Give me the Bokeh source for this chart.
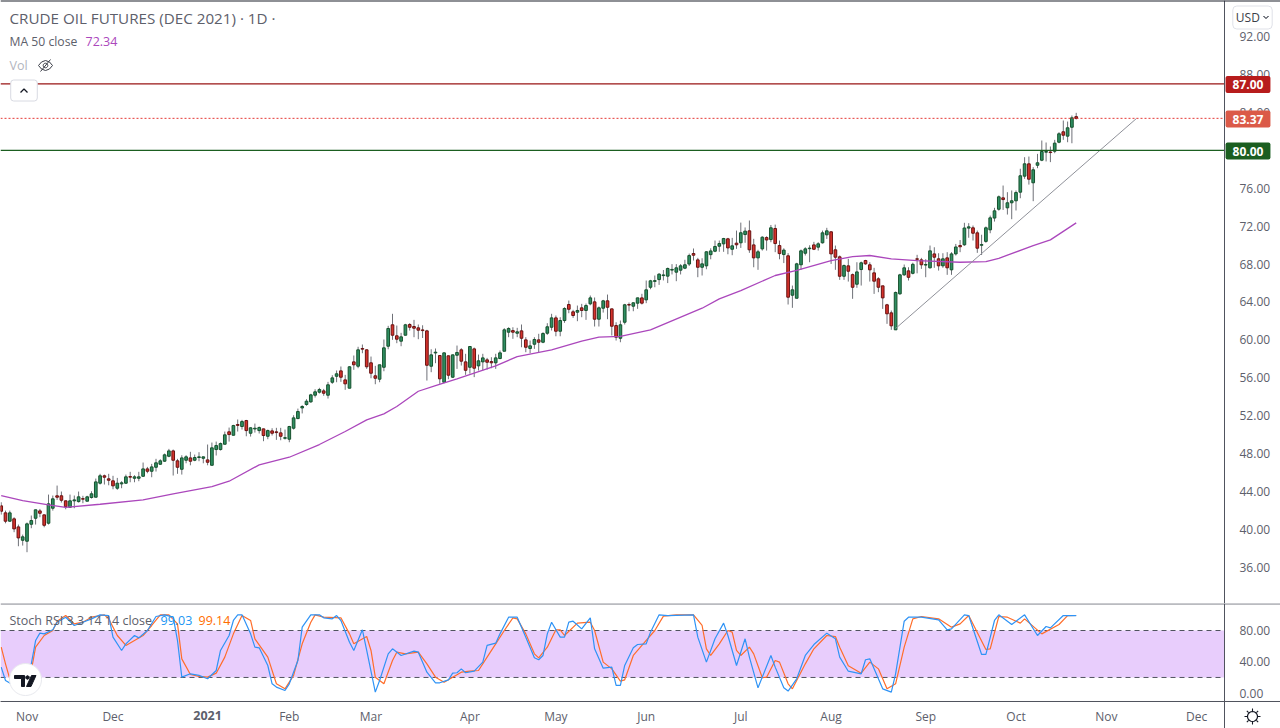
import math

from bokeh.embed import file_html
from bokeh.layouts import column
from bokeh.models import (BoxAnnotation, ColumnDataSource, FixedTicker, Label, LinearAxis,
                          NumeralTickFormatter, PolyAnnotation, Range1d, Span)
from bokeh.plotting import figure
from bokeh.resources import INLINE

# daily candles, bar 0 is the first one on the left
opens = [
    42.49, 41.75, 40.87, 41.12, 40.27, 38.86, 38.76, 40.55, 41.18, 41.96,
    41.54, 40.66, 42.24, 43.55, 43.55, 43.02, 42.34, 43.02, 42.94, 43.25,
    42.98, 43.37, 43.40, 44.88, 45.66, 45.34, 45.13, 44.35, 44.81, 44.88,
    45.58, 45.40, 45.40, 45.61, 46.39, 46.14, 46.56, 46.88, 47.20, 47.72,
    48.29, 47.24, 46.35, 47.30, 47.55, 47.30, 47.59, 47.51, 47.34, 46.77,
    48.43, 48.43, 48.99, 50.30, 49.94, 51.07, 50.86, 51.49, 50.15, 50.60,
    50.43, 50.61, 49.83, 50.40, 50.30, 50.19, 49.62, 49.52, 50.68, 51.70,
    52.82, 53.18, 53.46, 54.16, 54.48, 54.62, 54.16, 55.53, 56.16, 56.73,
    55.78, 54.90, 57.68, 57.22, 59.09, 58.95, 57.58, 56.21, 55.85, 57.11,
    59.33, 61.59, 60.43, 59.86, 60.49, 61.62, 61.41, 61.27, 61.05, 60.95,
    57.22, 58.62, 58.35, 55.53, 58.32, 56.06, 58.38, 58.95, 57.68, 57.11,
    59.05, 57.26, 57.68, 57.89, 57.71, 57.58, 58.03, 58.80, 60.81, 60.98,
    60.70, 60.95, 60.00, 59.09, 59.54, 60.00, 59.75, 60.70, 61.33, 62.32,
    60.91, 62.04, 63.73, 62.96, 62.92, 63.38, 63.10, 63.80, 64.01, 62.18,
    63.34, 64.12, 63.27, 61.51, 60.17, 61.86, 63.73, 63.55, 63.87, 64.43,
    64.22, 65.55, 66.17, 66.36, 66.78, 66.72, 67.36, 67.14, 67.35, 67.56,
    68.00, 69.11, 68.44, 67.66, 67.81, 68.99, 69.35, 69.88, 70.13, 70.66,
    69.56, 70.20, 70.24, 71.11, 71.50, 70.02, 68.65, 69.60, 70.79, 70.58,
    71.75, 69.95, 69.00, 68.87, 64.71, 64.39, 67.92, 69.14, 69.62, 70.02,
    69.78, 70.24, 71.08, 71.40, 69.50, 68.76, 66.71, 67.81, 66.88, 65.87,
    67.42, 68.37, 67.92, 67.07, 66.44, 65.70, 63.70, 62.85, 61.06, 64.86,
    66.86, 67.28, 67.02, 68.55, 68.44, 67.89, 67.60, 69.07, 68.55, 67.81,
    68.65, 67.39, 69.07, 69.95, 70.03, 71.79, 71.82, 71.29, 69.98, 70.39,
    71.61, 72.85, 73.78, 74.98, 73.93, 74.46, 74.67, 75.58, 77.27, 78.57,
    76.57, 78.42, 78.95, 79.80, 79.82, 79.90, 80.85, 81.95, 81.49, 82.43,
    83.55,
]
highs = [
    42.87, 41.99, 41.99, 41.29, 40.52, 39.46, 40.73, 41.47, 42.10, 42.17,
    41.57, 43.68, 43.58, 44.63, 44.00, 43.05, 43.68, 43.58, 44.00, 43.55,
    43.55, 44.03, 45.37, 45.87, 45.79, 45.87, 45.66, 45.44, 45.09, 45.79,
    46.08, 45.72, 46.08, 47.06, 46.60, 46.92, 47.45, 47.41, 48.01, 48.50,
    48.43, 47.45, 47.83, 47.83, 48.19, 47.90, 48.15, 47.69, 48.96, 49.17,
    49.27, 49.17, 50.33, 50.75, 51.04, 51.60, 51.56, 51.56, 50.78, 51.17,
    50.86, 50.64, 50.54, 50.68, 50.72, 50.72, 50.54, 50.93, 52.05, 52.75,
    53.11, 53.74, 54.31, 54.79, 54.94, 54.83, 55.57, 56.27, 56.77, 57.19,
    56.31, 57.22, 58.35, 59.27, 59.51, 59.00, 58.24, 57.26, 57.37, 60.04,
    61.48, 62.75, 61.51, 60.74, 61.69, 61.76, 62.11, 61.62, 61.54, 61.06,
    59.01, 59.09, 58.40, 58.68, 58.35, 58.45, 59.40, 59.12, 58.53, 59.33,
    59.19, 58.45, 58.53, 58.10, 58.17, 58.53, 58.88, 61.23, 61.33, 61.33,
    61.27, 61.62, 60.28, 59.93, 60.28, 60.64, 60.81, 61.76, 62.75, 62.57,
    62.39, 63.44, 64.15, 63.17, 63.62, 63.80, 63.83, 64.68, 64.47, 63.52,
    64.22, 64.78, 63.30, 61.86, 62.04, 63.80, 63.94, 63.97, 64.46, 64.86,
    66.26, 66.33, 66.79, 67.04, 67.37, 67.63, 67.99, 67.99, 67.99, 68.45,
    69.10, 69.64, 68.65, 68.61, 69.35, 69.66, 70.48, 70.48, 70.76, 70.76,
    70.76, 71.53, 72.37, 71.86, 72.59, 70.66, 69.50, 70.93, 70.93, 72.12,
    72.16, 70.48, 69.66, 69.15, 65.73, 68.13, 69.53, 69.77, 69.98, 70.34,
    70.30, 71.53, 71.82, 71.46, 69.95, 68.90, 67.95, 68.55, 67.00, 68.19,
    68.26, 68.44, 68.19, 67.60, 66.61, 65.70, 63.80, 63.10, 65.10, 66.97,
    67.95, 67.66, 68.14, 68.97, 68.65, 68.51, 69.95, 69.77, 69.14, 69.14,
    69.25, 69.25, 70.12, 70.53, 72.35, 72.31, 72.06, 71.53, 71.09, 71.96,
    73.11, 73.93, 75.23, 76.28, 75.58, 75.76, 75.76, 78.05, 79.27, 79.34,
    78.22, 79.62, 81.03, 80.82, 80.40, 81.10, 81.91, 83.14, 83.03, 83.67,
    83.95,
]
lows = [
    41.57, 40.65, 40.80, 39.71, 38.23, 38.30, 37.60, 40.13, 40.52, 41.29,
    40.23, 40.52, 41.99, 43.12, 42.84, 42.13, 42.31, 42.24, 42.84, 42.77,
    42.98, 43.26, 43.40, 44.74, 44.74, 44.66, 44.24, 44.18, 44.35, 44.81,
    44.98, 44.98, 45.09, 45.55, 45.93, 45.51, 46.11, 46.81, 47.13, 47.62,
    45.69, 45.87, 45.79, 46.98, 46.77, 47.20, 47.20, 46.98, 46.77, 46.77,
    47.80, 48.33, 48.96, 49.27, 49.91, 50.33, 50.54, 49.83, 49.80, 50.22,
    50.12, 49.31, 49.52, 49.91, 49.45, 49.41, 49.48, 49.20, 50.54, 51.63,
    52.24, 53.05, 53.36, 53.92, 54.34, 54.10, 53.81, 55.36, 55.53, 55.57,
    54.73, 54.90, 56.84, 57.01, 58.59, 56.94, 55.95, 55.32, 55.53, 56.69,
    59.01, 60.00, 59.65, 59.33, 60.46, 60.98, 60.28, 60.07, 60.20, 55.71,
    56.59, 57.54, 55.36, 55.43, 55.85, 55.99, 56.94, 57.29, 56.31, 56.44,
    56.07, 56.77, 56.76, 56.87, 57.01, 56.94, 57.96, 58.80, 60.28, 60.11,
    60.28, 59.22, 58.70, 58.59, 59.05, 58.70, 59.65, 60.53, 60.99, 60.38,
    60.38, 61.80, 62.81, 62.32, 61.97, 62.39, 62.11, 63.65, 61.41, 61.41,
    62.88, 62.18, 60.46, 59.93, 59.75, 61.62, 63.02, 63.02, 63.27, 63.73,
    63.87, 65.34, 65.55, 65.80, 66.27, 65.99, 66.90, 66.19, 66.90, 67.46,
    67.79, 68.37, 66.61, 66.79, 67.45, 68.50, 69.25, 69.29, 69.29, 69.03,
    68.93, 69.60, 69.70, 70.24, 69.18, 67.66, 67.39, 69.42, 69.42, 70.30,
    69.25, 68.50, 68.10, 63.73, 63.38, 64.39, 67.39, 68.90, 68.19, 69.47,
    69.42, 70.16, 70.65, 68.01, 67.39, 66.33, 66.33, 66.15, 64.33, 65.49,
    65.73, 67.92, 66.15, 64.85, 65.03, 63.27, 61.69, 61.06, 61.06, 64.75,
    66.75, 66.26, 66.91, 67.02, 67.49, 66.61, 67.53, 67.60, 67.31, 67.60,
    66.86, 66.86, 68.90, 69.25, 69.92, 70.77, 70.48, 69.18, 68.95, 70.24,
    71.25, 72.48, 73.63, 73.71, 73.22, 72.73, 73.65, 74.94, 76.99, 76.38,
    74.63, 78.11, 78.85, 78.82, 78.75, 79.69, 80.74, 81.10, 80.85, 80.74,
    83.25,
]
closes = [
    41.92, 40.87, 41.75, 40.06, 39.11, 39.22, 40.59, 40.94, 42.07, 41.71,
    40.44, 42.70, 43.23, 43.40, 43.08, 42.39, 43.02, 43.12, 43.44, 43.20,
    43.44, 43.76, 45.02, 45.66, 45.51, 45.19, 44.60, 44.88, 44.92, 45.55,
    45.52, 45.55, 45.55, 46.39, 46.14, 46.60, 47.03, 47.24, 47.87, 48.29,
    47.30, 46.56, 47.55, 47.66, 47.20, 47.59, 47.66, 47.66, 47.09, 48.61,
    48.85, 49.06, 49.98, 50.01, 50.96, 50.98, 51.38, 50.43, 50.72, 50.68,
    50.75, 49.91, 50.43, 50.15, 50.22, 49.83, 49.68, 50.86, 51.77, 52.44,
    52.97, 53.53, 54.20, 54.52, 54.76, 54.37, 55.26, 55.99, 56.42, 56.06,
    55.36, 57.16, 57.37, 58.95, 59.02, 57.16, 56.48, 55.95, 57.37, 59.16,
    61.20, 60.49, 60.07, 60.32, 61.59, 61.33, 61.23, 61.02, 60.98, 57.32,
    58.42, 58.70, 55.89, 58.63, 56.27, 58.42, 58.67, 57.75, 56.79, 59.30,
    57.01, 57.79, 58.10, 57.64, 57.58, 58.10, 58.63, 61.06, 61.20, 60.81,
    60.85, 60.17, 59.22, 59.37, 60.04, 59.75, 60.67, 61.38, 62.32, 60.91,
    62.04, 63.31, 63.23, 62.57, 63.10, 63.10, 63.62, 64.43, 62.18, 63.38,
    64.12, 63.44, 61.44, 60.28, 61.59, 63.70, 63.67, 63.91, 64.43, 63.87,
    65.28, 66.23, 66.25, 66.93, 66.85, 67.53, 67.43, 67.60, 67.81, 67.92,
    68.89, 68.93, 67.66, 68.02, 69.29, 69.38, 69.85, 70.16, 70.69, 69.70,
    69.92, 70.03, 71.30, 71.47, 69.50, 68.65, 69.29, 70.83, 70.54, 71.82,
    70.16, 69.10, 69.47, 64.50, 65.28, 68.02, 69.39, 69.60, 69.68, 69.56,
    70.13, 71.29, 71.50, 69.07, 68.72, 66.71, 67.84, 67.24, 65.55, 67.17,
    68.13, 68.02, 67.39, 66.19, 65.55, 64.43, 62.75, 61.48, 65.00, 66.86,
    67.60, 66.60, 67.97, 68.50, 67.92, 67.95, 69.39, 68.72, 67.81, 68.55,
    67.60, 69.07, 69.80, 69.82, 71.80, 71.92, 71.25, 69.67, 70.05, 71.82,
    72.87, 73.61, 75.09, 74.80, 74.46, 74.67, 75.54, 77.31, 78.57, 76.95,
    77.94, 78.68, 79.87, 79.87, 79.76, 80.75, 81.74, 81.59, 82.37, 83.42,
    83.37,
]

# MA 50 close
ma_bars = [0, 5, 11, 15, 23, 33, 40, 49, 53, 60, 67, 74, 80, 85, 89, 92, 97, 101, 106, 115,
           120, 128, 135, 139, 144, 151, 163, 167, 172, 180, 185, 193, 198, 202, 207, 213,
           223, 229, 232, 240, 244, 250]
ma_values = [43.58, 43.05, 42.60, 42.34, 42.66, 43.12, 43.76, 44.53, 45.09, 46.82, 47.62, 48.96,
             50.33, 51.56, 52.20, 52.97, 54.58, 55.18, 55.89, 57.26, 58.24, 58.95, 59.86, 60.28,
             60.37, 61.06, 63.34, 64.33, 65.20, 66.79, 67.32, 68.37, 68.79, 68.90, 68.55, 68.37,
             68.19, 68.26, 68.60, 69.95, 70.55, 72.34]

# Stoch RSI
k_bars = [0, 1, 2, 5, 7, 8, 9, 10, 12, 13, 15, 17, 19, 21, 23, 25, 26, 28, 29, 31, 32, 34, 36, 38,
          40, 41, 42, 44, 46, 48, 50, 51, 53, 54, 55, 56, 58, 59, 60, 62, 63, 64, 66, 67, 69, 70,
          72, 74, 75, 77, 78, 79, 81, 82, 84, 85, 87, 88, 90, 91, 93, 96, 97, 99, 101, 102, 104,
          105, 106, 107, 108, 110, 112, 113, 115, 116, 118, 120, 122, 124, 125, 126, 127, 128,
          130, 131, 132, 133, 135, 137, 138, 140, 142, 143, 144, 145, 147, 148, 150, 151, 153,
          155, 161, 162, 164, 166, 168, 169, 171, 173, 174, 176, 179, 180, 182, 183, 185, 187,
          189, 192, 194, 195, 197, 200, 201, 202, 205, 207, 208, 210, 211, 214, 218, 220, 221,
          224, 225, 228, 229, 231, 232, 235, 238, 241, 243, 244, 247, 250]
k_values = [33.2, 16.2, 12.8, 14.0, 37.4, 67.2, 76.6, 75.7, 80.9, 90.6, 97.0, 86.4, 90.6, 94.9,
            100.0, 99.1, 71.5, 54.5, 63.0, 73.6, 70.6, 80.0, 97.9, 100.0, 97.0, 67.2, 20.4, 24.7,
            22.6, 18.3, 28.9, 54.5, 73.6, 92.8, 99.9, 100.0, 75.7, 58.7, 57.9, 35.3, 11.9, 7.7, 3.4,
            11.9, 41.7, 84.3, 100.0, 100.0, 96.2, 94.9, 99.1, 92.8, 65.1, 54.5, 80.9, 54.5, 1.3,
            16.2, 50.2, 56.6, 48.1, 53.6, 52.3, 26.8, 13.2, 13.2, 17.0, 25.5, 26.0, 31.0, 26.0,
            28.1, 39.6, 60.9, 63.8, 75.7, 97.0, 97.0, 71.5, 45.1, 42.6, 48.1, 75.7, 90.6, 71.5,
            71.5, 90.6, 91.9, 82.1, 96.2, 56.6, 31.9, 33.2, 9.8, 9.8, 35.3, 57.9, 62.1, 63.0, 77.9,
            100.0, 99.1, 100.0, 71.5, 39.6, 69.4, 89.4, 73.6, 35.3, 69.4, 46.0, 6.8, 48.1, 33.2,
            6.8, 2.6, 18.3, 48.1, 62.1, 76.6, 69.4, 46.0, 28.0, 24.7, 42.6, 43.8, 5.5, 1.3, 24.7,
            91.9, 97.0, 97.0, 93.6, 80.9, 82.1, 100.0, 99.1, 49.4, 49.4, 92.8, 100.0, 87.7, 100.0,
            73.6, 85.1, 83.4, 99.1, 99.03]
d_bars = [0, 1, 2, 5, 7, 8, 10, 12, 13, 15, 17, 19, 21, 24, 25, 27, 29, 31, 33, 35, 37, 39, 41, 42,
          44, 46, 48, 50, 52, 54, 56, 58, 59, 62, 64, 66, 68, 70, 72, 73, 75, 79, 81, 82, 85, 86,
          87, 89, 91, 92, 94, 97, 99, 101, 103, 105, 107, 109, 111, 113, 115, 117, 119, 120, 122,
          124, 125, 127, 129, 130, 131, 134, 137, 138, 140, 142, 144, 145, 147, 149, 152, 154,
          157, 161, 163, 164, 165, 167, 169, 170, 171, 172, 174, 175, 177, 178, 180, 181, 183,
          184, 187, 189, 192, 194, 195, 197, 200, 202, 204, 206, 208, 210, 212, 214, 218, 221,
          223, 225, 229, 230, 232, 234, 237, 238, 242, 246, 248, 250]
d_values = [58.7, 37.4, 18.3, 14.0, 28.9, 58.7, 73.6, 80.0, 91.9, 99.1, 88.5, 90.6, 97.0, 100.0,
            94.9, 73.6, 60.9, 67.2, 73.6, 86.4, 100.0, 100.0, 88.5, 43.8, 23.8, 21.3, 20.4, 25.5,
            46.0, 75.7, 99.1, 92.8, 69.4, 46.0, 11.9, 5.5, 22.6, 63.0, 90.6, 100.0, 97.0, 96.2,
            75.7, 63.0, 72.3, 54.5, 20.4, 11.9, 41.7, 52.3, 50.2, 52.3, 37.4, 20.4, 14.0, 20.4,
            26.8, 28.1, 28.9, 46.0, 63.0, 80.0, 96.2, 94.9, 75.7, 50.2, 45.1, 58.7, 80.9, 80.9,
            73.6, 89.4, 90.6, 80.0, 39.6, 31.0, 15.3, 17.0, 48.1, 60.9, 80.0, 98.3, 100.0, 100.0,
            86.4, 56.6, 48.1, 63.0, 80.0, 77.9, 54.5, 48.1, 58.7, 50.2, 19.6, 20.4, 41.7, 39.6,
            11.9, 5.5, 37.4, 56.6, 73.6, 72.3, 58.7, 35.0, 25.5, 39.6, 31.0, 5.5, 11.9, 58.7, 94.9,
            97.9, 94.9, 84.3, 88.5, 99.1, 55.7, 56.6, 97.9, 97.0, 89.4, 94.9, 75.7, 87.7, 99.1,
            99.14]

# trend line drawn on the chart
trend_bars = [208, 264]
trend_values = [61.2, 83.35]

price_ticks = [36, 40, 44, 48, 52, 56, 60, 64, 68, 72, 76, 80, 84, 88, 92]
stoch_ticks = [0, 40, 80]
month_ticks = [6, 26, 67, 86, 109, 129, 150, 172, 193, 215, 236, 257, 278]
month_labels = ["Nov", "Dec", "Feb", "Mar", "Apr", "May", "Jun", "Jul", "Aug", "Sep", "Oct", "Nov", "Dec"]
year_tick = 48
year_label = "2021"

MAIN_H = 603
STOCH_H = 125
X_START, X_END = -0.163, 297.51   # whole canvas is the frame
AXIS_BAR = 284.49                 # price scale sits here
TIME_LINE = -10.7                 # time scale sits here on the stoch range
FONT = "Open Sans"
TEXT = "#5d606b"
AXIS = "#50535e"
GREEN_BODY, GREEN_EDGE = "#2f8f63", "#16502c"
RED_BODY, RED_EDGE = "#d5322b", "#681212"


def style(p):
    p.grid.visible = False
    p.outline_line_color = None
    p.background_fill_color = "white"
    p.border_fill_color = "white"
    p.min_border = 0


def style_axis(ax):
    ax.major_tick_line_color = None
    ax.minor_tick_line_color = None
    ax.axis_line_color = AXIS
    ax.major_label_text_font = FONT
    ax.major_label_text_font_size = "12px"
    ax.major_label_text_color = TEXT


def note(p, x, y, text, color=TEXT, size=13, **kw):
    # x, y are px from the top left of the figure canvas
    lab = Label(x=x, y=y, x_units="canvas", y_units="canvas", text=text, text_color=color,
                text_font=FONT, text_font_size=f"{size}px", text_baseline="middle", **kw)
    p.add_layout(lab)
    return lab


def shape(p, xs, ys, fill=None, line="#131722", width=1.0):
    p.add_layout(PolyAnnotation(xs=xs, ys=ys, xs_units="canvas", ys_units="canvas",
                                fill_color=fill, fill_alpha=1 if fill else 0,
                                line_color=line, line_alpha=1, line_width=width))


def circle_pts(cx, cy, r, n=40):
    return ([cx + r * math.cos(2 * math.pi * k / n) for k in range(n)],
            [cy + r * math.sin(2 * math.pi * k / n) for k in range(n)])


bars = list(range(len(opens)))
x_range = Range1d(X_START, X_END)

p = figure(width=1280, height=MAIN_H, x_range=x_range, y_range=Range1d(32.19, 95.8),
           x_axis_location=None, y_axis_location=None, toolbar_location=None, output_backend="svg")
style(p)

price_axis = LinearAxis(fixed_location=AXIS_BAR, ticker=FixedTicker(ticks=price_ticks),
                        formatter=NumeralTickFormatter(format="0.00"), major_label_standoff=9)
style_axis(price_axis)
p.add_layout(price_axis, "right")

p.add_layout(Span(location=95.8, dimension="width", line_color="#1e222d", line_width=2))

up = [c >= o for o, c in zip(opens, closes)]
src = ColumnDataSource(data=dict(
    bar=bars, low=lows, high=highs,
    top=[max(o, c) for o, c in zip(opens, closes)],
    bottom=[min(o, c) for o, c in zip(opens, closes)],
    fill=[GREEN_BODY if u else RED_BODY for u in up],
    edge=[GREEN_EDGE if u else RED_EDGE for u in up],
))
p.segment(x0="bar", y0="low", x1="bar", y1="high", source=src, line_color="#6f7178", line_width=1)
p.vbar(x="bar", top="top", bottom="bottom", width=0.62, source=src,
       fill_color="fill", line_color="edge", line_width=1)

p.line(ma_bars, ma_values, line_color="#ab47bc", line_width=1.3)
p.line(trend_bars, trend_values, line_color="#8f9199", line_width=1)

p.segment(x0=X_START, x1=AXIS_BAR, y0=87, y1=87, line_color="#991515", line_width=1.2)
p.segment(x0=X_START, x1=AXIS_BAR, y0=80, y1=80, line_color="#1b5e20", line_width=1.2)
p.segment(x0=X_START, x1=AXIS_BAR, y0=closes[-1], y1=closes[-1], line_color="#e53935", line_width=1,
          line_dash="2 2")

for val, col, cy in [(87.0, "#b71c1c", 84), (closes[-1], "#db5a48", 118.5), (80.0, "#1b5e20", 150.5)]:
    note(p, 1247.5, cy, f"{val:.2f}", color="white", size=12, text_align="center", text_font_style="bold",
         background_fill_color=col, padding=(7, 4), border_radius=2)

note(p, 9, 17, "CRUDE OIL FUTURES (DEC 2021) · 1D ·", size=15.2)
note(p, 9, 41, "MA 50 close", size=12.2)
note(p, 85, 41, "72.34", color="#ab47bc", size=12.5)
note(p, 9, 65, "Vol", color="#b2b5be", size=12.5)

# crossed out eye next to Vol
ex = [38, 41, 45, 49, 52, 49, 45, 41]
ey = [65, 61.5, 60, 61.5, 65, 68.5, 70, 68.5]
shape(p, ex, ey, line="#3a3d47")
xs, ys = circle_pts(45, 65, 2.3, 16)
shape(p, xs, ys, line="#3a3d47")
shape(p, [40, 50], [71, 59], line="#3a3d47")

# collapse button
note(p, 23.5, 90, "   ", size=11, text_align="center", background_fill_color="white",
     border_line_color="#d8dae2", padding=(9, 3), border_radius=3)
shape(p, [20, 23.5, 27, 23.5], [92, 88.5, 92, 88.5], line="#131722", width=1.3)

# currency button
note(p, 1252, 17, "USD   ", color="#3b3e48", size=12, text_align="center", background_fill_color="white",
     border_line_color="#dfe1e8", padding=(3, 3), border_radius=4)
shape(p, [1263, 1265.5, 1268, 1265.5], [15.5, 18, 15.5, 18], line="#50535e")

s = figure(width=1280, height=STOCH_H, x_range=x_range, y_range=Range1d(-45.2, 114.5),
           x_axis_location=None, y_axis_location=None, toolbar_location=None, output_backend="svg")
style(s)

time_axis = LinearAxis(fixed_location=TIME_LINE, ticker=FixedTicker(ticks=month_ticks + [year_tick]),
                       major_label_overrides={**dict(zip(month_ticks, month_labels)), year_tick: ""},
                       major_label_standoff=1)
style_axis(time_axis)
s.add_layout(time_axis, "below")

stoch_axis = LinearAxis(fixed_location=AXIS_BAR, ticker=FixedTicker(ticks=stoch_ticks),
                        formatter=NumeralTickFormatter(format="0.00"), major_label_standoff=9)
style_axis(stoch_axis)
s.add_layout(stoch_axis, "right")

s.add_layout(BoxAnnotation(bottom=20, top=80, right=AXIS_BAR, fill_color="#e8cdfc", fill_alpha=1,
                           line_color=None, level="underlay"))
for lvl in (20, 80):
    s.segment(x0=X_START, x1=AXIS_BAR, y0=lvl, y1=lvl, line_color=AXIS, line_width=1, line_dash="5 4")
# panel separator and the line above the time scale
s.add_layout(Span(location=114.0, dimension="width", line_color=AXIS, line_width=1))
s.add_layout(Span(location=TIME_LINE, dimension="width", line_color=AXIS, line_width=1))

s.line(d_bars, d_values, line_color="#ff6d2a", line_width=1.2)
s.line(k_bars, k_values, line_color="#2f93f5", line_width=1.2)

note(s, 9, 17, "Stoch RSI 3 3 14 14 close", size=12.5)
note(s, 160, 17, "99.03", color="#2196f3", size=12.5)
note(s, 198, 17, "99.14", color="#ff6d00", size=12.5)

year = Label(x=year_tick, y=112, x_units="data", y_units="canvas", text=year_label, text_color=TEXT,
             text_font=FONT, text_font_size="12.5px", text_font_style="bold",
             text_align="center", text_baseline="middle")
s.add_layout(year)

# settings icon in the corner
xs, ys = circle_pts(1252, 113, 5, 20)
shape(s, xs, ys, line="#131722", width=1.2)
for k in range(8):
    a = k * math.pi / 4
    shape(s, [1252 + 5.5 * math.cos(a), 1252 + 8 * math.cos(a)],
          [113 + 5.5 * math.sin(a), 113 + 8 * math.sin(a)], line="#131722", width=1.1)

# logo badge
xs, ys = circle_pts(25, 76, 16)
shape(s, xs, ys, fill="white", line="#e8e9ee")
shape(s, [14, 24, 24, 21, 21, 14], [72, 72, 83, 83, 75, 75], fill="#131722", line="#131722")
xs, ys = circle_pts(27, 74, 1.8, 12)
shape(s, xs, ys, fill="#131722", line="#131722")
shape(s, [31, 35.5, 30.5, 26], [72, 72, 83, 83], fill="#131722", line="#131722")

layout = column(p, s, spacing=0)
open("out.html", "w").write(file_html(layout, INLINE))
